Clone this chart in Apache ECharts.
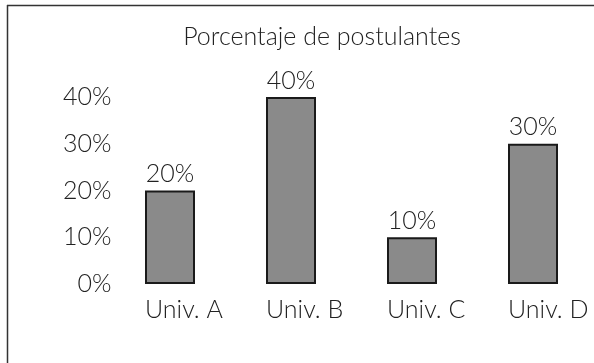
<!DOCTYPE html>
<html>
<head>
<meta charset="utf-8">
<script src="https://cdn.jsdelivr.net/npm/echarts@6/dist/echarts.min.js"></script>
<style>
  html, body { margin: 0; padding: 0; background: #fff; }
  #chart { width: 594px; height: 363px; }
</style>
</head>
<body>
<div id="chart"></div>
<script>
// Share of applicants per university
const categories = ['Univ. A', 'Univ. B', 'Univ. C', 'Univ. D'];
const values = [20, 40, 10, 30];
const yTicks = [0, 10, 20, 30, 40];

const FONT = 'Lato';
const FS = 25;
const TXT = '#222';
const GRID_LEFT = 109.5, GRID_RIGHT = 0.5, GRID_TOP = 97, GRID_BOTTOM = 79;
const BAR_W = 50;

const chart = echarts.init(document.getElementById('chart'));
chart.setOption({
  backgroundColor: '#fff',
  animation: false,
  title: {
    text: 'Porcentaje de postulantes',
    left: 317, top: 19, textAlign: 'center',
    textStyle: { fontFamily: FONT, fontWeight: 300, fontSize: FS, color: TXT }
  },
  graphic: [
    { type: 'line', shape: { x1: 7, y1: 5.5, x2: 594, y2: 5.5 },
      style: { stroke: '#333', lineWidth: 1.5 }, silent: true },
    { type: 'line', shape: { x1: 7.5, y1: 5, x2: 7.5, y2: 363 },
      style: { stroke: '#333', lineWidth: 1.5 }, silent: true }
  ],
  grid: [
    // bars
    { left: GRID_LEFT, right: GRID_RIGHT, top: GRID_TOP, bottom: GRID_BOTTOM },
    // same bands shifted by half a bar so names start at each bar's left edge
    { left: GRID_LEFT - BAR_W / 2, right: GRID_RIGHT + BAR_W / 2, top: GRID_TOP, bottom: GRID_BOTTOM }
  ],
  xAxis: [{
    type: 'category', gridIndex: 0,
    data: categories,
    axisLine: { show: false },
    axisTick: { show: false },
    axisLabel: { show: false }
  }, {
    type: 'category', gridIndex: 1,
    data: categories,
    axisLine: { show: false },
    axisTick: { show: false },
    axisLabel: { margin: 13, align: 'left', fontFamily: FONT, fontWeight: 300, fontSize: FS, color: TXT }
  }],
  yAxis: [{
    type: 'value', gridIndex: 0,
    min: yTicks[0], max: yTicks[yTicks.length - 1], interval: 10,
    splitLine: { show: false },
    axisLine: { show: false },
    axisTick: { show: false },
    axisLabel: {
      margin: -2,
      fontFamily: FONT, fontWeight: 300, fontSize: FS, color: TXT,
      formatter: v => v + '%'
    }
  }, {
    type: 'value', gridIndex: 1, show: false,
    min: yTicks[0], max: yTicks[yTicks.length - 1]
  }],
  series: [{
    type: 'bar',
    xAxisIndex: 0, yAxisIndex: 0,
    data: values,
    barWidth: BAR_W,
    itemStyle: { color: '#8a8a8a', borderColor: '#1a1a1a', borderWidth: 2 },
    label: {
      show: true, position: 'top', distance: 4,
      fontFamily: FONT, fontWeight: 300, fontSize: FS, color: TXT,
      formatter: p => p.value + '%'
    }
  }]
});
</script>
</body>
</html>
